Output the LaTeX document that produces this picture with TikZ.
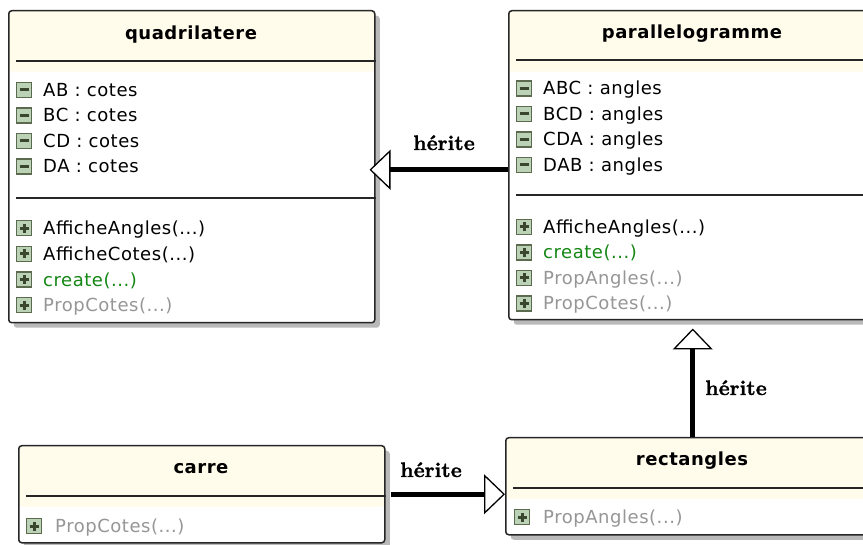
\documentclass[tikz,border=0pt]{standalone}
\usepackage{fontspec}
\usetikzlibrary{arrows.meta,shadows}
\newfontfamily\umlfont[LetterSpace=3]{DejaVu Sans}
\newfontfamily\heritefont{lmroman10-bold}[Extension=.otf,FakeBold=1.2]
\definecolor{headfill}{RGB}{255,252,236}
\definecolor{iconfill}{RGB}{188,210,182}
\definecolor{iconline}{RGB}{92,106,78}
\definecolor{iconsign}{RGB}{58,70,46}
\definecolor{creategreen}{RGB}{20,135,20}
\definecolor{propgray}{RGB}{150,150,150}
\definecolor{shadowgray}{RGB}{185,185,185}

\begin{document}
\begin{tikzpicture}[x=1pt,y=-1pt,
  classbox/.style={draw=black!85,line width=1.5pt,fill=white,rounded corners=3pt,
    anchor=north west,inner sep=0pt,minimum width=366pt,
    drop shadow={shadow xshift=5pt,shadow yshift=-5pt,opacity=1,fill=shadowgray},
    path picture={\fill[headfill] (path picture bounding box.north west)
      rectangle ([yshift=-61pt]path picture bounding box.north east);}},
  title/.style={anchor=base,inner sep=0pt,font=\umlfont\bfseries\fontsize{18}{20}\selectfont},
  member/.style={anchor=base west,inner sep=0pt,font=\umlfont\fontsize{18}{20}\selectfont},
  icon/.style={draw=iconline,fill=iconfill,line width=1.3pt,minimum size=15pt,inner sep=0pt},
  minus/.style={icon,
    path picture={\draw[iconsign,line width=3pt]
      ([xshift=-4.5pt]path picture bounding box.center) -- ([xshift=4.5pt]path picture bounding box.center);}},
  plus/.style={icon,
    path picture={\draw[iconsign,line width=3pt]
      ([xshift=-4.5pt]path picture bounding box.center) -- ([xshift=4.5pt]path picture bounding box.center)
      ([yshift=-4.5pt]path picture bounding box.center) -- ([yshift=4.5pt]path picture bounding box.center);}},
  divider/.style={black!85,line width=1.5pt},
  inherits/.style={line width=5pt,-{Triangle[fill=white,length=21pt,width=40pt,line width=1.3pt]}},
  herite/.style={anchor=base,inner sep=0pt,font=\heritefont\fontsize{21}{24}\selectfont}]
  \useasboundingbox (0,0) rectangle (863,545);
  \clip (0,0) rectangle (863,545);

  \node[classbox,minimum height=312pt] (quad) at (8,10) {};
  \node[classbox,minimum height=309pt,minimum width=368pt] (para) at (508,10) {};
  \node[classbox,minimum height=97pt] (carre) at (18,445) {};
  \node[classbox,minimum height=97pt,minimum width=374pt] (rect) at (505,437) {};

  \draw[divider] ([xshift=8pt,yshift=-51pt]quad.north west) -- ([yshift=-51pt]quad.north east);
  \draw[divider] ([xshift=8pt,yshift=-188pt]quad.north west) -- ([yshift=-188pt]quad.north east);
  \draw[divider] ([xshift=8pt,yshift=-50pt]para.north west) -- ([yshift=-50pt]para.north east);
  \draw[divider] ([xshift=8pt,yshift=-185pt]para.north west) -- ([yshift=-185pt]para.north east);
  \draw[divider] ([xshift=8pt,yshift=-51pt]carre.north west) -- ([yshift=-51pt]carre.north east);
  \draw[divider] ([xshift=8pt,yshift=-51pt]rect.north west) -- ([yshift=-51pt]rect.north east);

  \node[title] (quad-t) at (191,40) {quadrilatere};
  \node[title] (para-t) at (692,39) {parallelogramme};
  \node[title] (carre-t) at (201,474) {carre};
  \node[title] (rect-t) at (692,466) {rectangles};

  \foreach \a [count=\i] in {AB,BC,CD,DA} {
    \node[minus] (quad-i\i) at (24,64.5+25.5*\i) {};
    \node[member] (quad-a\i) at (43,71+25.5*\i) {\a~: cotes};
  }
  \foreach \m/\c [count=\i] in {AfficheAngles/black,AfficheCotes/black,create/creategreen,PropCotes/propgray} {
    \node[plus] (quad-j\i) at (24,202.5+25.7*\i) {};
    \node[member,text=\c] (quad-m\i) at (43,209+25.7*\i) {\m(...)};
  }
  \foreach \a [count=\i] in {ABC,BCD,CDA,DAB} {
    \node[minus] (para-i\i) at (524,63+25.5*\i) {};
    \node[member] (para-a\i) at (543,69.5+25.5*\i) {\a~: angles};
  }
  \foreach \m/\c [count=\i] in {AfficheAngles/black,create/creategreen,PropAngles/propgray,PropCotes/propgray} {
    \node[plus] (para-j\i) at (524,201.5+25.5*\i) {};
    \node[member,text=\c] (para-m\i) at (543,208+25.5*\i) {\m(...)};
  }
  \node[plus] (carre-j1) at (34,526) {};
  \node[member,text=propgray] (carre-m1) at (55,532.5) {PropCotes(...)};
  \node[plus] (rect-j1) at (522,517) {};
  \node[member,text=propgray] (rect-m1) at (543,523.5) {PropAngles(...)};

  \draw[inherits,shorten >=-6pt] ([yshift=-3pt]para.west |- quad.east) -- ([yshift=-3pt]quad.east);
  \draw[inherits,shorten <=5pt] (carre.east) -- (carre.east -| rect.west);
  \draw[inherits,shorten >=8pt] (rect.north) -- (para.south);

  \node[herite] (h1) at (444,150) {hérite};
  \node[herite] (h2) at (736,395) {hérite};
  \node[herite] (h3) at (431,477) {hérite};
\end{tikzpicture}
\end{document}
